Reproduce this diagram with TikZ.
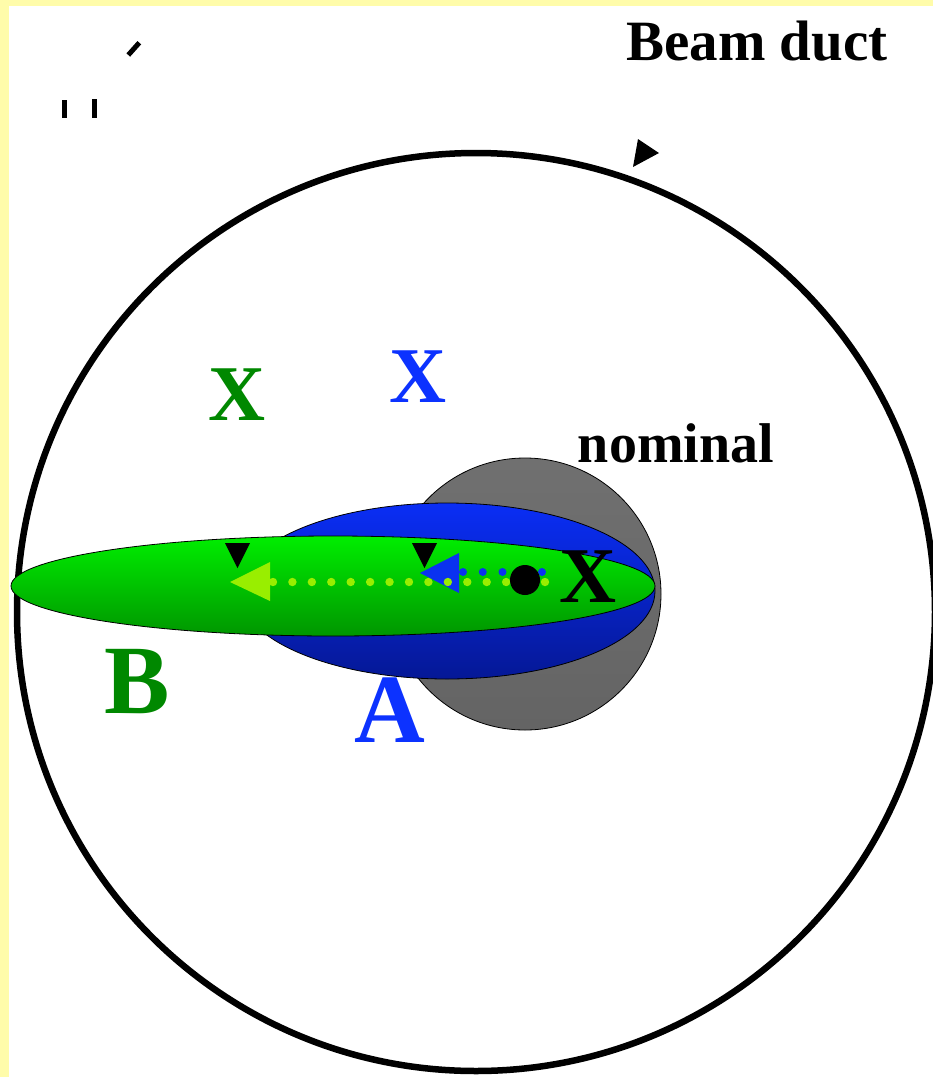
\documentclass[tikz,border=0pt]{standalone}
\usepackage{fontspec}
\setmainfont{Liberation Serif}
\definecolor{bgyellow}{RGB}{255,252,170}
\definecolor{txtblue}{RGB}{12,50,255}
\definecolor{txtgreen}{RGB}{0,136,0}
\definecolor{blueTop}{RGB}{10,46,245}
\definecolor{blueBot}{RGB}{5,24,150}
\definecolor{greenTop}{RGB}{0,238,0}
\definecolor{greenBot}{RGB}{0,150,0}
\definecolor{grayTop}{RGB}{112,112,112}
\definecolor{grayBot}{RGB}{100,100,100}
\definecolor{lime}{RGB}{153,238,0}
\definecolor{arrowblue}{RGB}{10,50,240}
\begin{document}
\begin{tikzpicture}[x=1pt,y=-1pt,
  lbl/.style={font=\bfseries, anchor=base, inner sep=0pt},
  outline/.style={draw=black, line width=0.8pt},
  marker/.style={fill=black},
  dotline/.style={line width=#1, dash pattern=on 0pt off 19.43pt, line cap=round}]
\useasboundingbox (0,0) rectangle (933,1077);
\clip (0,0) rectangle (933,1077);
\fill[bgyellow] (0,0) rectangle (933,1077);
\fill[white] (9,6) rectangle (933,1077);
% beam duct
\draw[line width=6.5pt] (476,612) circle[radius=459];
% nominal beam
\path[outline, top color=grayTop, bottom color=grayBot] (525,594) circle[radius=136];
% beam A
\path[outline, top color=blueTop, bottom color=blueBot] (447,591) ellipse[x radius=208, y radius=88];
% beam B
\path[outline, top color=greenTop, bottom color=greenBot] (333,586) ellipse[x radius=322, y radius=50];
% blue displacement arrow
\coordinate (bs) at (542,572);
\coordinate (be) at (462.5,572);
\coordinate (bt) at (420,573);
\fill[arrowblue] (bt) -- (459,553) -- (459,593) -- cycle;
\draw[arrowblue, line width=8pt, line cap=round, dash pattern=on 0pt off 19.75pt] (bs) -- (be);
% green displacement arrow
\coordinate (gs) at (545,582);
\coordinate (ge) at (272.5,582);
\coordinate (gt) at (230,582);
\fill[lime] (gt) -- (270,562) -- (270,601) -- cycle;
\draw[lime, dotline=8.4pt] (gs) -- (ge);
% nominal centre
\node[circle, fill=black, minimum size=30pt, inner sep=0pt] (centre) at (525,580) {};
% markers
\fill[marker] (225,543) -- (250,543) -- (237.5,568) -- cycle;
\fill[marker] (412,543) -- (437,543) -- (424.5,568) -- cycle;
\fill[marker] (638,139) -- (633,167) -- (659,153) -- cycle;
% stray marks
\draw[line width=5pt] (128.3,55) -- (139.3,42.7);
\fill (62,100) rectangle (67,118);
\fill (92,99) rectangle (97,118);
% labels
\node[lbl, font=\fontsize{57}{60}\selectfont\bfseries] (duct) at (757,60) {Beam duct};
\node[lbl, font=\fontsize{56}{60}\selectfont\bfseries] (nom) at (676,462) {nominal};
\node[lbl, font=\fontsize{79}{80}\selectfont\bfseries] (xn) at (588,602) {X};
\node[lbl, font=\fontsize{79}{80}\selectfont\bfseries, text=txtgreen] (xb) at (237,420) {X};
\node[lbl, font=\fontsize{79}{80}\selectfont\bfseries, text=txtblue] (xa) at (418,402) {X};
\node[lbl, font=\fontsize{98}{100}\selectfont\bfseries, text=txtgreen] (lb) at (137,713) {B};
\node[lbl, font=\fontsize{98}{100}\selectfont\bfseries, text=txtblue] (la) at (390,742) {A};
\end{tikzpicture}
\end{document}
